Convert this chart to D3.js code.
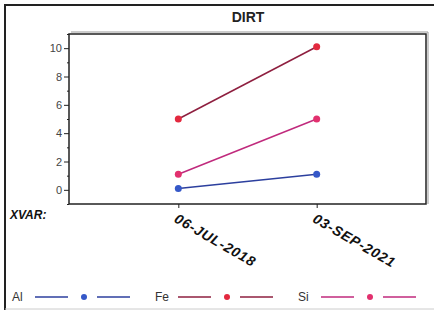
<!DOCTYPE html>
<html>
<head>
<meta charset="utf-8">
<script src="https://cdn.jsdelivr.net/npm/d3@7"></script>
<style>
  body { margin: 0; background: #fff; }
  svg { display: block; font-family: "Liberation Sans", Arial, sans-serif; }
</style>
</head>
<body>
<div id="chart"></div>
<script>
// data
const dates = ["06-JUL-2018", "03-SEP-2021"];
const alValues = [0.1, 1.1];
const feValues = [5.0, 10.1];
const siValues = [1.1, 5.0];
const yTicks = [0, 2, 4, 6, 8, 10];
const yMinorTicks = [-1, 1, 3, 5, 7, 9, 11];

const series = [
  { name: "Al", values: alValues, line: "#2c3f9e", dot: "#3558c8" },
  { name: "Fe", values: feValues, line: "#8e1f3f", dot: "#e3293f" },
  { name: "Si", values: siValues, line: "#c02a7d", dot: "#e2306e" }
];

const width = 434, height = 310;
const plot = { left: 69, top: 34, right: 426, bottom: 204 };

const svg = d3.select("#chart").append("svg")
  .attr("width", width)
  .attr("height", height);

// outer frame
svg.append("path")
  .attr("d", `M5,${height} V5 H${width}`)
  .attr("fill", "none")
  .attr("stroke", "#222")
  .attr("stroke-width", 2);
svg.append("line")
  .attr("x1", 5).attr("x2", width)
  .attr("y1", height - 1).attr("y2", height - 1)
  .attr("stroke", "#ccc");

svg.append("text")
  .attr("x", 248).attr("y", 22)
  .attr("text-anchor", "middle")
  .style("font-weight", "bold")
  .style("font-size", "14px")
  .attr("fill", "#222")
  .text("DIRT");

const x = d3.scalePoint()
  .domain(dates)
  .range([plot.left, plot.right])
  .padding(0.79);

const y = d3.scaleLinear()
  .domain([-1, 11])
  .range([plot.bottom, plot.top]);

// plot frame (right/top with a slight shadow)
svg.append("rect")
  .attr("x", plot.left).attr("y", plot.top)
  .attr("width", plot.right - plot.left)
  .attr("height", plot.bottom - plot.top)
  .attr("fill", "none")
  .attr("stroke", "#222")
  .attr("stroke-width", 1.5);
svg.append("path")
  .attr("d", `M${plot.left + 2},${plot.top - 2} H${plot.right + 2} V${plot.bottom}`)
  .attr("fill", "none")
  .attr("stroke", "#999")
  .attr("stroke-width", 1);

// y axis
const yAxis = svg.append("g")
  .attr("transform", `translate(${plot.left},0)`)
  .call(d3.axisLeft(y).tickValues(yTicks).tickSize(5).tickPadding(2));
yAxis.select(".domain").remove();
yAxis.selectAll("line").attr("stroke", "#222");
yAxis.selectAll("text")
  .style("font-size", "11px")
  .style("font-family", "'Liberation Sans', Arial, sans-serif")
  .attr("fill", "#444");

const yMinor = svg.append("g")
  .attr("transform", `translate(${plot.left},0)`)
  .call(d3.axisLeft(y).tickValues(yMinorTicks).tickSize(2).tickFormat(""));
yMinor.select(".domain").remove();
yMinor.selectAll("line").attr("stroke", "#222");

// x axis
const xAxis = svg.append("g")
  .attr("transform", `translate(0,${plot.bottom})`)
  .call(d3.axisBottom(x).tickSize(4).tickPadding(6));
xAxis.select(".domain").remove();
xAxis.selectAll("line").attr("stroke", "#222");
xAxis.selectAll("text")
  .attr("text-anchor", "start")
  .attr("x", 0).attr("y", 0).attr("dy", 0)
  .attr("transform", "translate(0,8) rotate(30) translate(0,11)")
  .style("font-size", "14px")
  .style("font-weight", "bold")
  .style("font-style", "italic")
  .style("letter-spacing", "0.8px")
  .style("font-family", "'Liberation Sans', Arial, sans-serif")
  .attr("fill", "#111");

svg.append("text")
  .attr("x", 10).attr("y", 219)
  .style("font-size", "12px")
  .style("font-weight", "bold")
  .style("font-style", "italic")
  .attr("fill", "#111")
  .text("XVAR:");

// lines and points
const line = d3.line()
  .x((d, i) => x(dates[i]))
  .y(d => y(d));

series.forEach(s => {
  svg.append("path")
    .datum(s.values)
    .attr("d", line)
    .attr("fill", "none")
    .attr("stroke", s.line)
    .attr("stroke-width", 1.5);
  svg.selectAll(null)
    .data(s.values)
    .join("circle")
    .attr("cx", (d, i) => x(dates[i]))
    .attr("cy", d => y(d))
    .attr("r", 3.5)
    .attr("fill", s.dot);
});

// legend
const legend = svg.append("g").attr("transform", "translate(0,297)");
series.forEach((s, i) => {
  const g = legend.append("g").attr("transform", `translate(${12 + i * 143},0)`);
  g.append("text")
    .attr("x", 0).attr("y", 4)
    .style("font-size", "12px")
    .attr("fill", "#333")
    .text(s.name);
  g.append("line")
    .attr("x1", 23).attr("x2", 56)
    .attr("stroke", s.line).attr("stroke-width", 1.5);
  g.append("circle")
    .attr("cx", 72).attr("r", 3)
    .attr("fill", s.dot);
  g.append("line")
    .attr("x1", 85).attr("x2", 118)
    .attr("stroke", s.line).attr("stroke-width", 1.5);
});
</script>
</body>
</html>
